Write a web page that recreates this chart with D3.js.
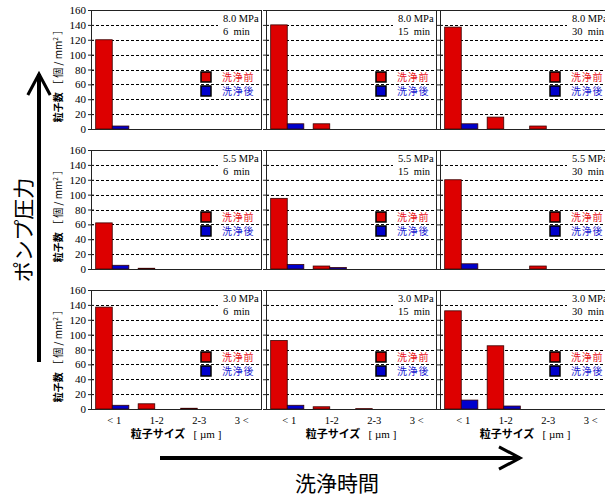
<!DOCTYPE html>
<html lang="ja">
<head>
<meta charset="UTF-8">
<title>粒子数</title>
<script src="https://d3js.org/d3.v7.min.js"></script>
<style>
    body { margin: 0; background: #fff; }
    svg { font-family: "Liberation Serif", serif; }
    .grid line { stroke: #000; stroke-dasharray: 3,2; stroke-width: 1; shape-rendering: crispEdges; }
    .jp { font-family: "Noto Sans CJK JP", sans-serif; }
</style>
</head>
<body>
<div id="chart"></div>
<script>
    // data
    var sizes = ["< 1", "1-2", "2-3", "3 <"];
    var pressures = ["8.0 MPa", "5.5 MPa", "3.0 MPa"];
    var times = ["6  min", "15  min", "30  min"];
    var yTicks = [0, 20, 40, 60, 80, 100, 120, 140, 160];
    // [pressure row][time column][size]
    var before = [
        [[120, 0, 0, 0], [140, 7, 0, 0], [137, 16, 4, 0]],
        [[62, 1, 0, 0], [95, 4, 0, 0], [120, 0, 4, 0]],
        [[137, 7, 1, 0], [92, 3, 0.5, 0], [132, 85, 0, 0]]
    ];
    var after = [
        [[4, 0, 0, 0], [7, 0, 0, 0], [7, 0, 0, 0]],
        [[5, 0, 0, 0], [6, 2, 0, 0], [7, 0, 0, 0]],
        [[5, 0, 0, 0], [5, 0, 0, 0], [12, 4, 0, 0]]
    ];
    var legendNames = ["洗浄前", "洗浄後"];
    var colors = ["#dd0000", "#0000cc"];
    var textColors = ["#e8101a", "#1a1ad0"];

    var colX = [91, 266, 440],
        rowY = [10, 150, 290],
        pw = 170, ph = 119;

    var svg = d3.select("#chart").append("svg")
        .attr("width", 605).attr("height", 500);

    var defs = svg.append("defs");
    defs.append("marker").attr("id", "arrow")
        .attr("viewBox", "0 0 20 20").attr("refX", 17).attr("refY", 10)
        .attr("markerWidth", 7).attr("markerHeight", 7).attr("markerUnits", "strokeWidth")
        .attr("orient", "auto")
        .append("path").attr("d", "M2,2 L17,10 L2,18")
        .attr("fill", "none").attr("stroke", "#000").attr("stroke-width", 2.2);

    var y = d3.scaleLinear().domain([0, 160]).range([ph, 0]);
    var x = d3.scaleBand().domain(sizes).range([0, pw]).paddingInner(0.22).paddingOuter(0.11);
    var x2 = d3.scaleBand().domain([0, 1]).range([0, x.bandwidth()]);

    for (var r = 0; r < 3; r++) {
        for (var c = 0; c < 3; c++) {
            var g = svg.append("g").attr("transform", "translate(" + colX[c] + "," + rowY[r] + ")");

            // dashed grid
            g.append("g").attr("class", "grid")
                .selectAll("line").data(yTicks.slice(1, -1)).enter().append("line")
                .attr("x1", 0).attr("x2", pw)
                .attr("y1", function(d) { return Math.round(y(d)) + 0.5; })
                .attr("y2", function(d) { return Math.round(y(d)) + 0.5; });

            // annotation with white box
            g.append("rect").attr("x", pw - 43).attr("y", 3).attr("width", 42).attr("height", 25)
                .attr("fill", "#fff");
            g.append("text").attr("x", pw - 38).attr("y", 12).attr("font-size", 10.5)
                .text(pressures[r]);
            g.append("text").attr("x", pw - 38).attr("y", 25).attr("font-size", 10.5)
                .style("white-space", "pre").text(times[c]);

            // bars
            var rows = sizes.map(function(s, i) { return { size: s, vals: [before[r][c][i], after[r][c][i]] }; });
            var grp = g.selectAll(".grp").data(rows).enter().append("g")
                .attr("transform", function(d) { return "translate(" + x(d.size) + ",0)"; });
            grp.selectAll("rect").data(function(d) { return d.vals.map(function(v, k) { return { k: k, v: v }; }).filter(function(e) { return e.v > 0; }); })
                .enter().append("rect")
                .attr("x", function(d) { return x2(d.k); })
                .attr("width", x2.bandwidth())
                .attr("y", function(d) { return y(d.v); })
                .attr("height", function(d) { return y(0) - y(d.v); })
                .attr("fill", function(d) { return colors[d.k]; })
                .attr("stroke", "#3a0000").attr("stroke-width", 0.8);

            // frame
            g.append("rect").attr("x", 0.5).attr("y", 0.5).attr("width", pw).attr("height", ph)
                .attr("fill", "none").attr("stroke", "#222").attr("stroke-width", 1);

            // left ticks
            var ax = g.append("g").call(d3.axisLeft(y).tickValues(yTicks).tickSize(3).tickFormat(c === 0 ? d3.format("d") : ""));
            ax.select(".domain").remove();
            ax.selectAll(".tick line").attr("x2", 3).attr("x1", -3).attr("stroke", "#222");
            ax.selectAll("text").attr("font-family", "Liberation Serif").attr("font-size", 11).attr("x", -5).attr("fill", "#000");

            // legend
            legendNames.forEach(function(name, k) {
                var ly = 62 + k * 14;
                g.append("rect").attr("x", 110).attr("y", ly).attr("width", 10).attr("height", 10)
                    .attr("fill", colors[k]).attr("stroke", "#000").attr("stroke-width", 1.5);
                g.append("text").attr("class", "jp").attr("x", 131).attr("y", ly + 9)
                    .attr("font-size", 10).attr("letter-spacing", 0.7)
                    .attr("fill", textColors[k]).text(name);
            });

            // y title
            if (c === 0) {
                var yt = g.append("text").attr("class", "jp")
                    .attr("transform", "translate(-29," + (ph / 2 + 4) + ") rotate(-90)")
                    .attr("text-anchor", "middle").attr("font-size", 10);
                yt.append("tspan").attr("font-weight", "bold").text("粒子数 ");
                yt.append("tspan").text("［ 個 / mm");
                yt.append("tspan").attr("font-size", 6.5).attr("dy", -4).text("2");
                yt.append("tspan").attr("dy", 4).text(" ］");
            }

            // x labels on bottom row
            if (r === 2) {
                g.selectAll(".xl").data(sizes).enter().append("text")
                    .attr("x", function(d) { return x(d) + x.bandwidth() / 2 + 2; })
                    .attr("y", ph + 15).attr("text-anchor", "middle").attr("font-size", 10.5)
                    .style("white-space", "pre")
                    .text(function(d) { return d; });
                var xt = g.append("text").attr("x", pw / 2).attr("y", ph + 29)
                    .attr("text-anchor", "middle").attr("font-size", 11);
                xt.append("tspan").attr("class", "jp").attr("font-weight", "bold").text("粒子サイズ");
                xt.append("tspan").style("white-space", "pre").text("   [ µm ]");
            }
        }
    }

    // big arrows
    svg.append("line").attr("x1", 39).attr("y1", 362).attr("x2", 39).attr("y2", 74)
        .attr("stroke", "#000").attr("stroke-width", 4).attr("marker-end", "url(#arrow)");
    svg.append("text").attr("class", "jp")
        .attr("transform", "translate(31,230) rotate(-90)")
        .attr("text-anchor", "middle").attr("font-size", 21).text("ポンプ圧力");

    svg.append("line").attr("x1", 160).attr("y1", 458).attr("x2", 520).attr("y2", 458)
        .attr("stroke", "#000").attr("stroke-width", 4).attr("marker-end", "url(#arrow)");
    svg.append("text").attr("class", "jp")
        .attr("x", 337).attr("y", 491).attr("text-anchor", "middle")
        .attr("font-size", 21).text("洗浄時間");
</script>
</body>
</html>
